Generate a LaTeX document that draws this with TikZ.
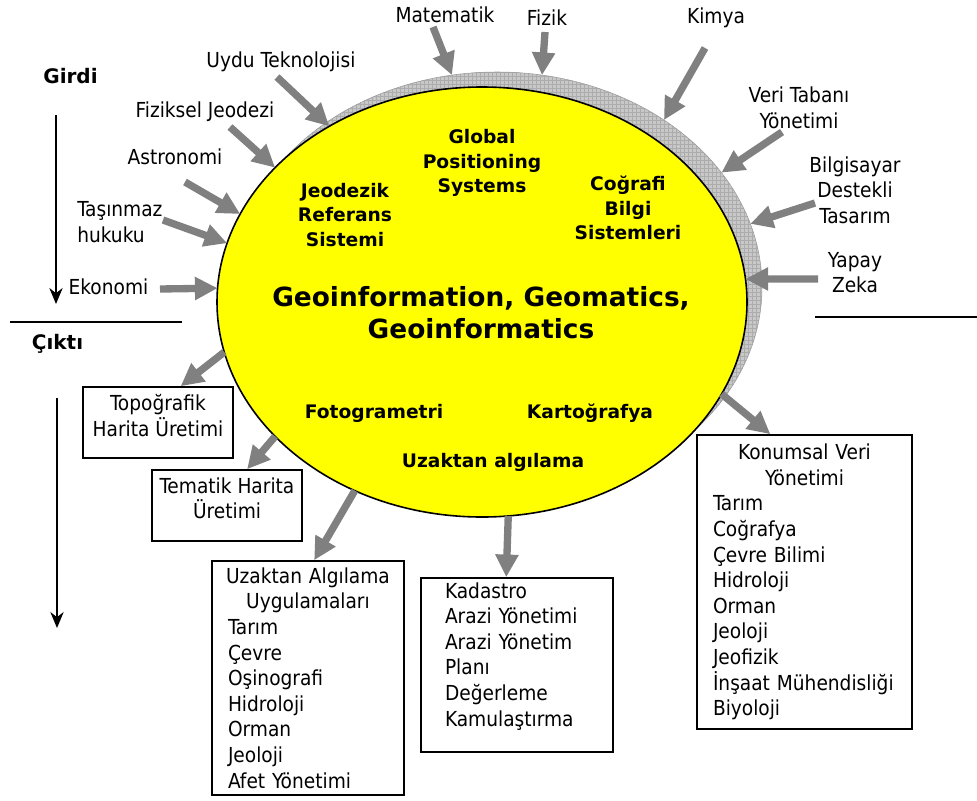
\documentclass[tikz,border=0pt]{standalone}
\usepackage{fontspec}
\setmainfont{DejaVu Sans Condensed}
\newfontfamily\verdana{DejaVu Sans}
\usepackage{tikz}
\usetikzlibrary{arrows.meta,shapes.geometric,patterns}
\definecolor{arrowgray}{RGB}{128,128,128}
\definecolor{shadowgray}{RGB}{200,200,200}
\definecolor{geoyellow}{RGB}{255,255,0}

\begin{document}
\begin{tikzpicture}[
x=0.75pt, y=-0.75pt,
font=\fontsize{15.5}{19.2}\selectfont,
inarrow/.style={draw=arrowgray, line width=5.5pt, -{Triangle[length=17pt,width=16.5pt]}},
flow/.style={line width=1.2pt, -{Stealth[length=12pt,width=10pt]}},
field/.style={font=\verdana\bfseries\fontsize{14}{18.4}\selectfont, align=center, inner sep=0pt},
topic/.style={align=center, inner sep=0pt},
outbox/.style={draw, line width=1.2pt, inner xsep=2pt, inner ysep=0pt}
]
    \useasboundingbox (0,0) rectangle (977,800);

    % Draw shadow and ellipse
    \node[ellipse, minimum width=397.5pt, minimum height=322.5pt, inner sep=0pt, outer sep=0pt,
          draw=gray!80, preaction={fill=shadowgray}, pattern=grid, pattern color=gray!65] (shadow) at (497,287) {};
    \node[ellipse, minimum width=397.5pt, minimum height=322.5pt, inner sep=0pt, outer sep=0pt,
          draw, line width=1.2pt, fill=geoyellow] (geo) at (482,302) {};

    \node[field] (gps) at (482,163) {Global\\Positioning\\Systems};
    \node[field] (jrs) at (345,215) {Jeodezik\\Referans\\Sistemi};
    \node[field] (cbs) at (628,208) {Coğrafi\\Bilgi\\Sistemleri};
    \node[field, font=\verdana\bfseries\fontsize{19.8}{24}\selectfont] (geoinf) at (481,313)
        {Geoinformation, Geomatics,\\Geoinformatics};
    \node[field] (foto) at (374,413) {Fotogrametri};
    \node[field] (karto) at (590,413) {Kartoğrafya};
    \node[field] (uzal) at (493,462) {Uzaktan algılama};

    % Inputs
    \node[topic] (mat) at (445,15) {Matematik};
    \node[topic] (fiz) at (547,18) {Fizik};
    \node[topic] (kim) at (716,18) {Kimya};
    \node[topic] (veri) at (799,107.5) {Veri Tabanı\\Yönetimi};
    \node[topic] (cad) at (855,190) {Bilgisayar\\Destekli\\Tasarım};
    \node[topic] (yz) at (855,272.5) {Yapay\\Zeka};
    \node[topic] (uydu) at (281,62) {Uydu Teknolojisi};
    \node[topic] (fj) at (205,112) {Fiziksel Jeodezi};
    \node[topic] (ast) at (175,157) {Astronomi};
    \node[topic, align=left, anchor=west] (tas) at (77,222) {Taşınmaz\\hukuku};
    \node[topic] (eko) at (108.5,287) {Ekonomi};

    \draw
    (433,27) coordinate (matT)
    (545,32) coordinate (fizT)
    (705,48) coordinate (kimT)
    (782,132) coordinate (veriT)
    (815,203) coordinate (cadT)
    (818,279) coordinate (yzT)
    (277,77) coordinate (uyduT)
    (230,127) coordinate (fjT)
    (185,182) coordinate (astT)
    (163,220) coordinate (tasT)
    (160,289) coordinate (ekoT);

    \draw[inarrow] (matT) -- (shadow.102);
    \draw[inarrow] (fizT) -- (shadow.78);
    \draw[inarrow] (kimT) -- (shadow.45);
    \draw[inarrow] (veriT) -- (shadow.27);
    \draw[inarrow] (cadT) -- (shadow.14);
    \draw[inarrow] (yzT) -- (geo.5);
    \draw[inarrow] (uyduT) -- (geo.131);
    \draw[inarrow] (fjT) -- (geo.147);
    \draw[inarrow] (astT) -- (geo.160);
    \draw[inarrow] (tasT) -- (geo.167);
    \draw[inarrow] (ekoT) -- (geo.177);

    % Outputs
    \node[outbox, minimum width=112.5pt, minimum height=53.25pt, align=center] (topo) at (158,422.5)
        {Topoğrafik\\Harita Üretimi\rule[-11pt]{0pt}{1pt}};
    \node[outbox, minimum width=112.5pt, minimum height=53.25pt, align=center] (tema) at (227,505.5)
        {Tematik Harita\\Üretimi\rule[-11pt]{0pt}{1pt}};
    \node[outbox, minimum width=144pt, minimum height=175.5pt, text width=140pt, align=left] (uzak) at (308,678)
        {{\centering Uzaktan Algılama\\Uygulamaları\par}
         \leftskip=10pt Tarım\\Çevre\\Oşinografi\\Hidroloji\\Orman\\Jeoloji\\Afet Yönetimi\par};
    \node[outbox, minimum width=144pt, minimum height=130.5pt, text width=140pt, align=left] (kada) at (517,665)
        {\leftskip=16pt Kadastro\\Arazi Yönetimi\\Arazi Yönetim\\Planı\\Değerleme\\Kamulaştırma\rule[-16pt]{0pt}{1pt}\par};
    \node[outbox, minimum width=161.25pt, minimum height=220.5pt, text width=157.25pt, align=left] (konu) at (804.5,582)
        {{\centering Konumsal Veri\\Yönetimi\par}
         \leftskip=10pt Tarım\\Coğrafya\\Çevre Bilimi\\Hidroloji\\Orman\\Jeoloji\\Jeofizik\\İnşaat Mühendisliği\\Biyoloji\par};

    \draw[inarrow] (geo.191) -- (topo.58);
    \draw[inarrow] (geo.213) -- (tema.61);
    \draw[inarrow] (geo.236) -- (uzak.87);
    \draw[inarrow] (geo.277) -- (kada.97);
    \draw[inarrow] (geo.339) -- (konu.103);

    % Girdi / Cikti
    \node[font=\verdana\bfseries\fontsize{15}{18}\selectfont] (girdi) at (70.5,76) {Girdi};
    \node[font=\verdana\bfseries\fontsize{15}{18}\selectfont] (cikti) at (57.5,344) {Çıktı};
    \draw
    (56,115) coordinate (girdiA)
    (56,304) coordinate (girdiB)
    (57,398) coordinate (ciktiA)
    (57,628) coordinate (ciktiB)
    (10,322) coordinate (sepA)
    (182,322) coordinate (sepB)
    (815,317) coordinate (sepC)
    (977,317) coordinate (sepD);
    \draw[flow] (girdiA) -- (girdiB);
    \draw[flow] (ciktiA) -- (ciktiB);
    \draw[line width=1.2pt] (sepA) -- (sepB);
    \draw[line width=1.2pt] (sepC) -- (sepD);
\end{tikzpicture}
\end{document}
